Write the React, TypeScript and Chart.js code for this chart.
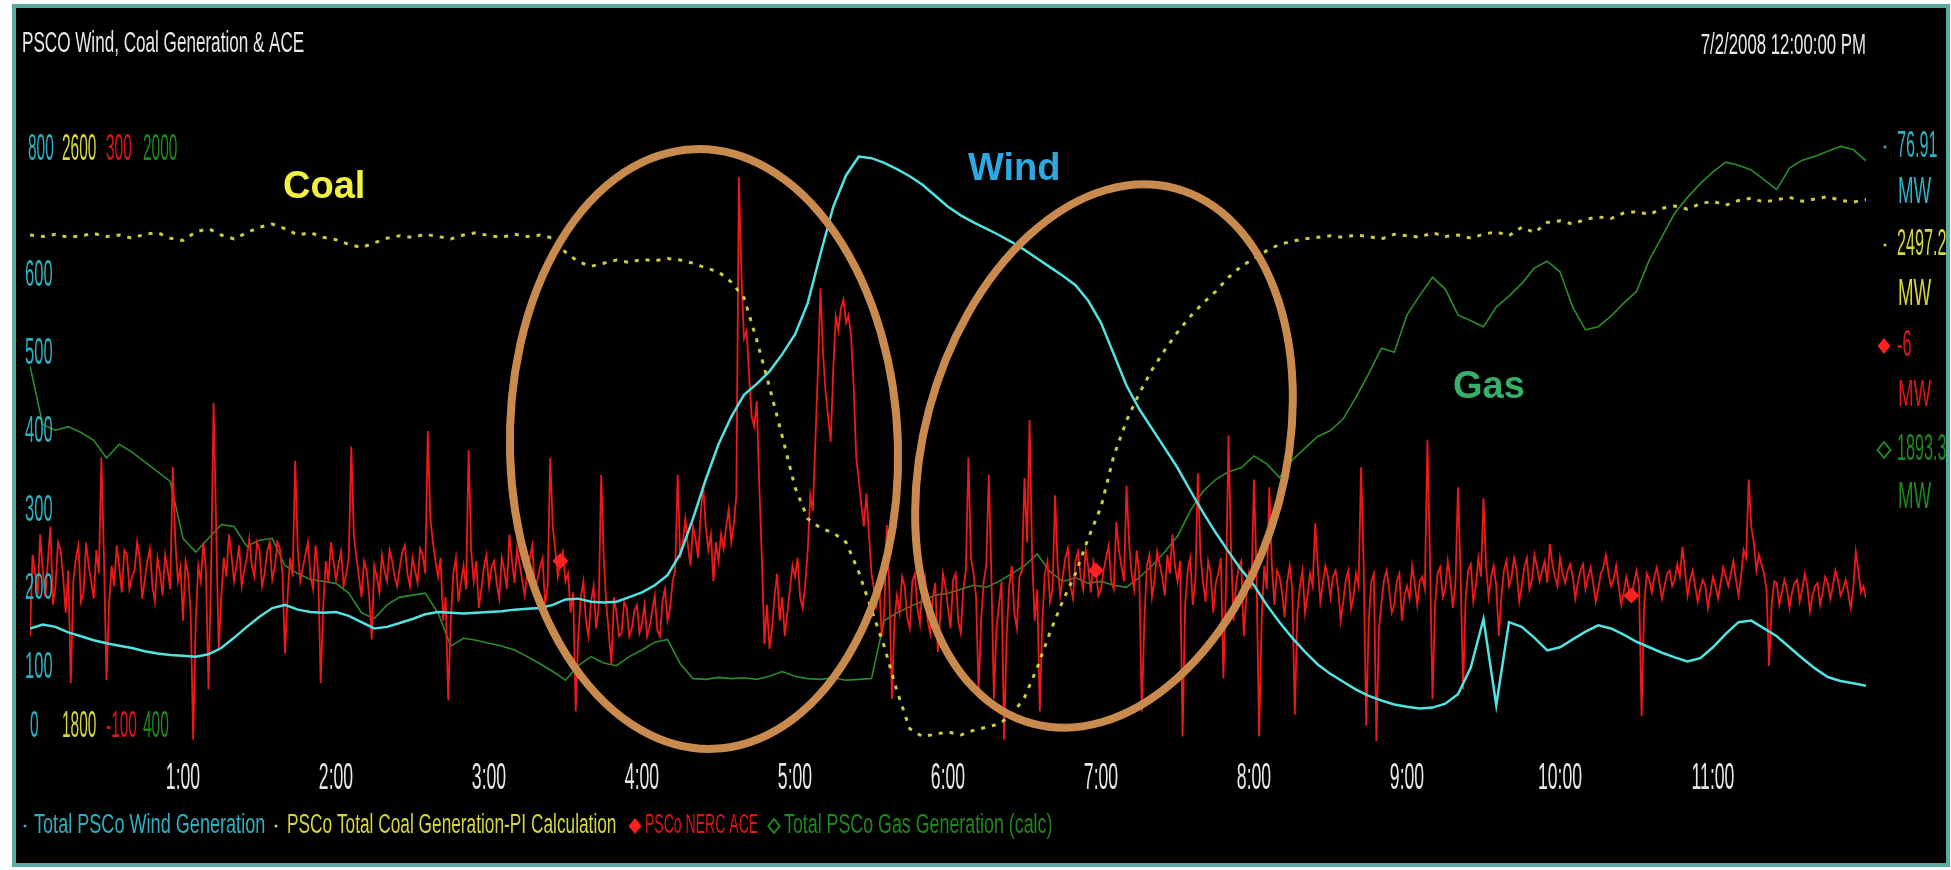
import React, { useEffect, useRef } from "react";
import { Chart, registerables } from "chart.js";

Chart.register(...registerables);

// ---------------- data ----------------
const SAMPLE_MINUTES = 5; // wind, coal, gas sampling
const ACE_SAMPLE_MINUTES = 1; // ACE sampling

const windValues = [
  150, 155, 152, 145, 140, 135, 131, 128, 125, 121, 118, 116,
  115, 114, 117, 125, 138, 152, 165, 176, 180, 174, 171, 170,
  171, 166, 158, 150, 152, 157, 162, 168, 171, 170, 169, 170,
  171, 172, 174, 175, 176, 180, 187, 188, 184, 183, 184, 190,
  196, 205, 218, 245, 290, 340, 385, 420, 448, 462, 478, 500,
  525, 565, 628, 688, 728, 752, 750, 744, 736, 727, 716, 702,
  688, 677, 668, 660, 652, 643, 633, 622, 611, 600, 588, 568,
  540, 500, 460, 430, 405, 380, 355, 326, 298, 272, 248, 225,
  205, 180, 158, 138, 120, 104, 92, 82, 72, 64, 58, 53,
  50, 48, 49, 54, 66, 100, 162, 52, 158, 152, 138, 122,
  126, 136, 146, 154, 150, 142, 133, 126, 119, 113, 108, 112,
  126, 143, 158, 160, 150, 140, 126, 112, 99, 88, 83, 80,
  76.91,
];

const coalValues = [
  2452, 2450, 2453, 2449, 2451, 2454, 2450, 2452, 2448, 2453, 2455, 2448,
  2445, 2456, 2460, 2452, 2447, 2455, 2462, 2466, 2460, 2452, 2455, 2449,
  2446, 2440, 2436, 2442, 2448, 2451, 2449, 2453, 2450, 2447, 2452, 2455,
  2451, 2449, 2453, 2450, 2452, 2448, 2430, 2418, 2412, 2416, 2420, 2417,
  2421, 2419, 2422, 2420, 2416, 2410, 2405, 2392, 2372, 2318, 2258, 2195,
  2130, 2090, 2078, 2072, 2060, 2022, 1974, 1927, 1870, 1822, 1812, 1815,
  1818, 1814, 1820, 1824, 1828, 1840, 1862, 1900, 1945, 1985, 2020, 2065,
  2105, 2170, 2215, 2250, 2280, 2305, 2328, 2348, 2365, 2380, 2398, 2412,
  2422, 2432, 2440, 2444, 2447, 2449, 2451, 2449, 2452, 2450, 2447, 2453,
  2451, 2449, 2455, 2450, 2452, 2448, 2453, 2456, 2451, 2462, 2455, 2468,
  2470, 2466, 2472, 2475, 2473, 2480, 2482, 2478, 2486, 2489, 2485, 2492,
  2495, 2490, 2496, 2499, 2494, 2497, 2500, 2495, 2498, 2501, 2496, 2494,
  2497.25,
];

const gasValues = [
  1370, 1220, 1206, 1215, 1200, 1180, 1135, 1170, 1150, 1125, 1100, 1075,
  930, 895, 930, 965, 960, 910, 925, 930, 860, 840, 825, 820,
  815, 790, 740, 725, 760, 780, 785, 790, 740, 655, 675, 670,
  662, 655, 645, 628, 610, 590, 568, 605, 628, 612, 605, 628,
  645, 665, 672, 610, 572, 570, 575, 572, 574, 570, 578, 590,
  578, 572, 570, 574, 568, 570, 572, 720, 740, 755, 770, 785,
  790, 800, 810, 805, 820, 840, 860, 890, 845, 820, 830, 815,
  820, 810, 805, 830, 860, 895, 935, 1000, 1050, 1080, 1100, 1110,
  1140, 1120, 1085, 1130, 1160, 1190, 1205, 1235, 1290, 1350, 1415, 1405,
  1500, 1550, 1596, 1566, 1500, 1485, 1470, 1520, 1548, 1580, 1620, 1637,
  1610, 1520, 1462, 1470, 1497, 1530, 1560, 1640, 1700, 1760, 1800, 1835,
  1865, 1890, 1882, 1870, 1845, 1820, 1875, 1895, 1905, 1918, 1930, 1922,
  1893.38,
];

const aceValues = [
  -30, 22, 10, -4, 35, 12, -5, 18, 40, -10, 2, 30, 25, 8, -15, 12, -60, 5, 20, 28, -8, -2, 30, 15, 5, -6, 25, 10, 84, 20,
  -58, -10, 15, 2, 28, 14, -2, 25, 22, 0, 8, 12, 30, 20, -6, 6, 18, 26, 2, -8, 20, 10, -4, 22, 12, 0, 78, 30, 5, 14,
  -20, 18, 10, -15, -96, -20, 15, 5, 30, 12, -64, 10, 119, 40, -39, -5, 20, 8, 35, 22, 5, 15, 28, 2, 12, 20, 32, 15, 8, 30,
  25, 2, 10, 24, 30, 6, 14, 30, 26, 10, -41, -5, 20, 8, 82, 25, 5, 14, 22, 30, 8, 0, 28, 12, -60, -10, 18, 5, 30, 18,
  6, 16, 24, 2, 10, 20, 91, 35, 20, 8, -5, 18, 12, -4, -32, 15, 8, -2, 22, 12, 5, 25, 18, 8, 2, 14, 24, 28, 10, 2,
  20, 12, 4, 26, 22, 10, 101, 45, 30, 18, 8, 20, -20, -5, -71, -20, 10, 20, -8, 4, 15, 0, 89, 25, 5, 18, -12, 0, 14, 22,
  2, 14, 18, 4, -6, 20, 12, 0, 35, 18, 4, 26, 16, 6, -4, 10, 20, 28, 0, 6, 14, 20, -10, 2, 84, 40, 25, 8, 18, 24,
  5, 10, -15, -2, -78, -30, -5, 5, -20, -30, -8, 2, -25, -12, 73, 20, -10, -28, -48, -5, -15, -30, -28, -8, -12, -30, -25, -14, -10, -28,
  -22, -10, -30, -24, -14, -4, -26, -30, -8, 0, -20, -12, 5, 12, 73, 20, 30, 45, 28, 15, 40, 32, 20, 48, 66, 40, 25, 35, 5, 30,
  18, 35, 26, 40, 51, 30, 41, 60, 263, 200, 160, 165, 137, 110, 104, 120, 66, 20, -35, -10, -38, -25, -4, 10, -20, -5, -30, -15, 0, 15,
  8, 20, -5, -12, 3, 25, 60, 50, 95, 140, 192, 150, 126, 110, 94, 140, 174, 165, 179, 185, 170, 175, 161, 130, 84, 70, 54, 40, 61, 35,
  10, 0, -10, 5, -30, -15, 41, 0, -70, -20, -4, -15, 8, 2, -18, -25, 5, 10, -12, -22, 2, 8, -20, -28, -6, 4, -40, -15, 10, 2,
  -12, -25, 6, 10, -20, -28, 0, 12, 84, 20, 10, -5, -65, -20, 5, 15, 73, 10, -70, -25, -10, 5, -96, -30, 2, 15, -15, -25, 8, 12,
  71, 30, 108, 20, -20, 0, -78, -20, 10, 18, -8, 0, 60, 15, -4, 8, 20, 26, 2, -6, 18, 24, 8, 0, 25, 14, -2, 18, 12, -4,
  0, 12, 20, 28, 5, 0, 43, 25, 15, 5, 66, 30, 10, 0, 25, 10, -78, -20, 15, 22, -5, 6, 24, 16, 8, -4, 22, 10, 35, 15,
  5, 18, -94, -10, 12, 20, -10, 5, 74, 22, 5, -8, 18, 10, -15, 4, 10, 20, -57, 0, 98, 25, -20, 4, 14, 18, -30, -5, 10, 0,
  70, 10, -94, -20, 15, 0, 65, 15, -10, 12, 8, -2, -18, 5, 15, 0, -80, -15, 2, 12, -15, -4, 10, 2, 42, 15, -8, 4, 15, 8,
  -5, 8, 12, 0, -20, -8, 6, 12, -12, -5, 10, 2, 78, 15, -87, -20, 5, 10, -97, -25, -8, 6, 12, 0, -15, -10, 5, 10, -20, -4,
  2, -6, 15, 4, -10, 5, 8, 0, 95, 20, -70, -10, 10, 14, -5, 0, 18, 6, -12, 4, 65, 10, -64, -5, 12, 16, -8, 2, 20, 8,
  58, 15, -5, 8, 15, 2, -30, -5, 12, 18, 2, 8, 20, 12, -8, 2, 14, 20, 0, 6, 22, 14, 5, 12, 18, 4, 29, 16, 8, 2,
  20, 10, 4, 12, 16, 8, -6, 4, 12, 16, 0, 8, 14, 4, -8, 0, 10, 14, 22, 10, 2, 6, 15, 2, -10, -2, 8, 0, -4, 4,
  12, 2, -81, -10, 10, 6, -2, 8, 14, 4, -6, 2, 10, 12, 2, 6, 16, 8, 27, 12, -4, 6, 12, 2, -8, 0, 6, 2, -12, -2,
  8, 2, -6, 4, 14, 8, 2, 10, 18, 6, -4, 8, 25, 20, 70, 40, 30, 12, 22, 16, 10, 0, -49, -10, 5, 4, -10, -2, 6, 0,
  -12, -2, 4, 6, -8, 0, 10, 2, -14, -4, 2, 4, -10, -2, 8, 4, -6, 2, 12, 6, -4, 0, 6, -2, -12, 0, 24, 12, -2, 2,
  -6,
];

const aceMarkerMinutes = [208, 418, 628];

const hourTickMinutes = [60, 120, 180, 240, 300, 360, 420, 480, 540, 600, 660];
const hourTickLabels = ["1:00", "2:00", "3:00", "4:00", "5:00", "6:00", "7:00", "8:00", "9:00", "10:00", "11:00"];
const windAxisLabels = [100, 200, 300, 400, 500, 600];

const timeRange = [0, 720];
const windRange = [0, 800];
const coalRange = [1800, 2600];
const aceRange = [-100, 300];
const gasRange = [400, 2000];

const TITLE = "PSCO Wind, Coal Generation & ACE";
const TIMESTAMP = "7/2/2008 12:00:00 PM";
const UNIT = "MW";
const seriesNames = [
  "Total PSCo Wind Generation",
  "PSCo Total Coal Generation-PI Calculation",
  "PSCo NERC ACE",
  "Total PSCo Gas Generation (calc)",
];
const annotationWords = ["Coal", "Wind", "Gas"];

// ---------------- styles ----------------
const WIND_LINE = "#52e2e2";
const WIND_TEXT = "#2fb0c0";
const COAL_LINE = "#cccc44";
const COAL_TEXT = "#d6d640";
const ACE_LINE = "#f01818";
const ACE_TEXT = "#dd1515";
const GAS_LINE = "#2a8c2a";
const GAS_TEXT = "#1f881f";
const WHITE_TEXT = "#e8e8e8";
const RING = "#c98a4e";
const FONT = '"Liberation Sans", Arial, sans-serif';

function drawText(
  ctx: CanvasRenderingContext2D,
  text: string,
  x: number,
  y: number,
  size: number,
  color: string,
  squeeze: number,
  align: "left" | "right" | "center" = "left",
  weight = "normal"
) {
  ctx.save();
  ctx.font = `${weight} ${size}px ${FONT}`;
  const w = ctx.measureText(text).width * squeeze;
  const left = align === "right" ? x - w : align === "center" ? x - w / 2 : x;
  ctx.translate(left, y);
  ctx.scale(squeeze, 1);
  ctx.fillStyle = color;
  ctx.textAlign = "left";
  ctx.textBaseline = "middle";
  ctx.fillText(text, 0, 0);
  ctx.restore();
  return w;
}

function drawDiamond(ctx: CanvasRenderingContext2D, cx: number, cy: number, r: number, color: string, filled: boolean) {
  ctx.save();
  ctx.beginPath();
  ctx.moveTo(cx, cy - r);
  ctx.lineTo(cx + r * 0.8, cy);
  ctx.lineTo(cx, cy + r);
  ctx.lineTo(cx - r * 0.8, cy);
  ctx.closePath();
  if (filled) {
    ctx.fillStyle = color;
    ctx.fill();
  } else {
    ctx.strokeStyle = color;
    ctx.lineWidth = 2;
    ctx.stroke();
  }
  ctx.restore();
}

function drawDot(ctx: CanvasRenderingContext2D, cx: number, cy: number, r: number, color: string) {
  ctx.save();
  ctx.beginPath();
  ctx.arc(cx, cy, r, 0, Math.PI * 2);
  ctx.fillStyle = color;
  ctx.fill();
  ctx.restore();
}

const overlayPlugin = {
  id: "psOverlay",
  afterDraw(chart: any) {
    const ctx: CanvasRenderingContext2D = chart.ctx;
    const area = chart.chartArea;
    const xs = chart.scales.x;
    const yw = chart.scales.yWind;

    // header
    drawText(ctx, TITLE, 6, 36, 30, WHITE_TEXT, 0.57);
    drawText(ctx, TIMESTAMP, area.right, 38, 30, WHITE_TEXT, 0.56, "right");

    // scale rows (max at top, min at bottom)
    const top = [
      [String(windRange[1]), WIND_TEXT],
      [String(coalRange[1]), COAL_TEXT],
      [String(aceRange[1]), ACE_TEXT],
      [String(gasRange[1]), GAS_TEXT],
    ];
    const bottom = [
      [String(windRange[0]), WIND_TEXT],
      [String(coalRange[0]), COAL_TEXT],
      [String(aceRange[0]), ACE_TEXT],
      [String(gasRange[0]), GAS_TEXT],
    ];
    const cols = [12, 46, 90, 127];
    top.forEach(([t, c], i) => drawText(ctx, t, cols[i], area.top + 31, 36, c, 0.43));
    bottom.forEach(([t, c], i) => drawText(ctx, t, i === 0 ? 14 : cols[i], area.bottom - 19, 36, c, 0.43));

    // wind axis labels
    windAxisLabels.forEach((v) => {
      drawText(ctx, String(v), 9, yw.getPixelForValue(v), 36, WIND_TEXT, 0.46);
    });

    // time labels
    hourTickMinutes.forEach((m, i) => {
      drawText(ctx, hourTickLabels[i], xs.getPixelForValue(m), 771, 36, WHITE_TEXT, 0.49, "center");
    });

    // current values at right
    const rightRows = [
      { v: String(windValues[windValues.length - 1]), c: WIND_TEXT, y: 139, u: 185, mark: "dot" },
      { v: String(coalValues[coalValues.length - 1]), c: COAL_TEXT, y: 237, u: 287, mark: "dot" },
      { v: String(aceValues[aceValues.length - 1]), c: ACE_TEXT, y: 338, u: 388, mark: "fill" },
      { v: String(gasValues[gasValues.length - 1]), c: GAS_TEXT, y: 442, u: 490, mark: "open" },
    ];
    rightRows.forEach((r) => {
      if (r.mark === "dot") drawDot(ctx, 1869, r.y, 1.5, r.c);
      else if (r.mark === "fill") drawDiamond(ctx, 1868, r.y, 8, "#ff2020", true);
      else drawDiamond(ctx, 1868, r.y, 8, r.c, false);
      drawText(ctx, r.v, 1881, r.y, 36, r.c, 0.45);
      drawText(ctx, UNIT, 1882, r.u, 36, r.c, 0.52);
    });

    // legend
    const ly = 818;
    drawDot(ctx, 9, ly, 1.5, WIND_TEXT);
    drawText(ctx, seriesNames[0], 18, ly, 27, WIND_TEXT, 0.67);
    drawDot(ctx, 260, ly, 1.5, COAL_TEXT);
    drawText(ctx, seriesNames[1], 271, ly, 27, COAL_TEXT, 0.64);
    drawDiamond(ctx, 619, ly, 8, "#ff2020", true);
    drawText(ctx, seriesNames[2], 629, ly, 27, ACE_TEXT, 0.52);
    drawDiamond(ctx, 758, ly, 7, GAS_TEXT, false);
    drawText(ctx, seriesNames[3], 768, ly, 27, GAS_TEXT, 0.66);

    // annotation rings
    ctx.save();
    ctx.strokeStyle = RING;
    ctx.lineWidth = 8;
    ctx.beginPath();
    ctx.ellipse(688, 441, 194, 300, -0.03, 0, Math.PI * 2);
    ctx.stroke();
    ctx.beginPath();
    ctx.ellipse(1088, 448, 181, 277, 0.26, 0, Math.PI * 2);
    ctx.stroke();
    ctx.restore();

    // annotation words
    drawText(ctx, annotationWords[0], 267, 180, 38, "#f2f23e", 1, "left", "bold");
    drawText(ctx, annotationWords[1], 952, 162, 38, "#2ea8e0", 1, "left", "bold");
    drawText(ctx, annotationWords[2], 1437, 380, 38, "#34b06c", 1, "left", "bold");
  },
};

export default function App() {
  const canvasRef = useRef<HTMLCanvasElement>(null);

  useEffect(() => {
    const canvas = canvasRef.current;
    if (!canvas) return;
    const toPoints = (vals: number[], step: number) => vals.map((v, i) => ({ x: i * step, y: v }));

    const chart = new Chart(canvas, {
      type: "line",
      data: {
        datasets: [
          {
            label: seriesNames[0],
            data: toPoints(windValues, SAMPLE_MINUTES),
            yAxisID: "yWind",
            borderColor: WIND_LINE,
            borderWidth: 2.5,
            pointRadius: 0,
          },
          {
            label: seriesNames[1],
            data: toPoints(coalValues, SAMPLE_MINUTES),
            yAxisID: "yCoal",
            borderColor: COAL_LINE,
            borderWidth: 3,
            borderDash: [4, 7],
            pointRadius: 0,
          },
          {
            label: seriesNames[2],
            data: toPoints(aceValues, ACE_SAMPLE_MINUTES),
            yAxisID: "yAce",
            borderColor: ACE_LINE,
            borderWidth: 1.8,
            pointStyle: "rectRot",
            pointBackgroundColor: "#ff2020",
            pointBorderWidth: 0,
            pointRadius: (c: any) => (aceMarkerMinutes.includes(c.parsed?.x) ? 8 : 0),
          },
          {
            label: seriesNames[3],
            data: toPoints(gasValues, SAMPLE_MINUTES),
            yAxisID: "yGas",
            borderColor: GAS_LINE,
            borderWidth: 1.6,
            pointRadius: 0,
          },
        ],
      },
      options: {
        responsive: false,
        animation: false,
        events: [],
        layout: { padding: { left: 14, right: 80, top: 111, bottom: 117 } },
        plugins: { legend: { display: false }, tooltip: { enabled: false } },
        elements: { line: { tension: 0 } },
        scales: {
          x: { type: "linear", min: timeRange[0], max: timeRange[1], display: false },
          yWind: { type: "linear", min: windRange[0], max: windRange[1], display: false },
          yCoal: { type: "linear", min: coalRange[0], max: coalRange[1], display: false },
          yAce: { type: "linear", min: aceRange[0], max: aceRange[1], display: false },
          yGas: { type: "linear", min: gasRange[0], max: gasRange[1], display: false },
        },
      },
      plugins: [overlayPlugin],
    } as any);

    return () => chart.destroy();
  }, []);

  return (
    <div
      style={{
        position: "absolute",
        left: 12,
        top: 4,
        width: 1930,
        height: 855,
        border: "4px solid #5ba9a2",
        background: "#000",
      }}
    >
      <canvas ref={canvasRef} width={1930} height={855} style={{ display: "block", width: 1930, height: 855 }} />
    </div>
  );
}
